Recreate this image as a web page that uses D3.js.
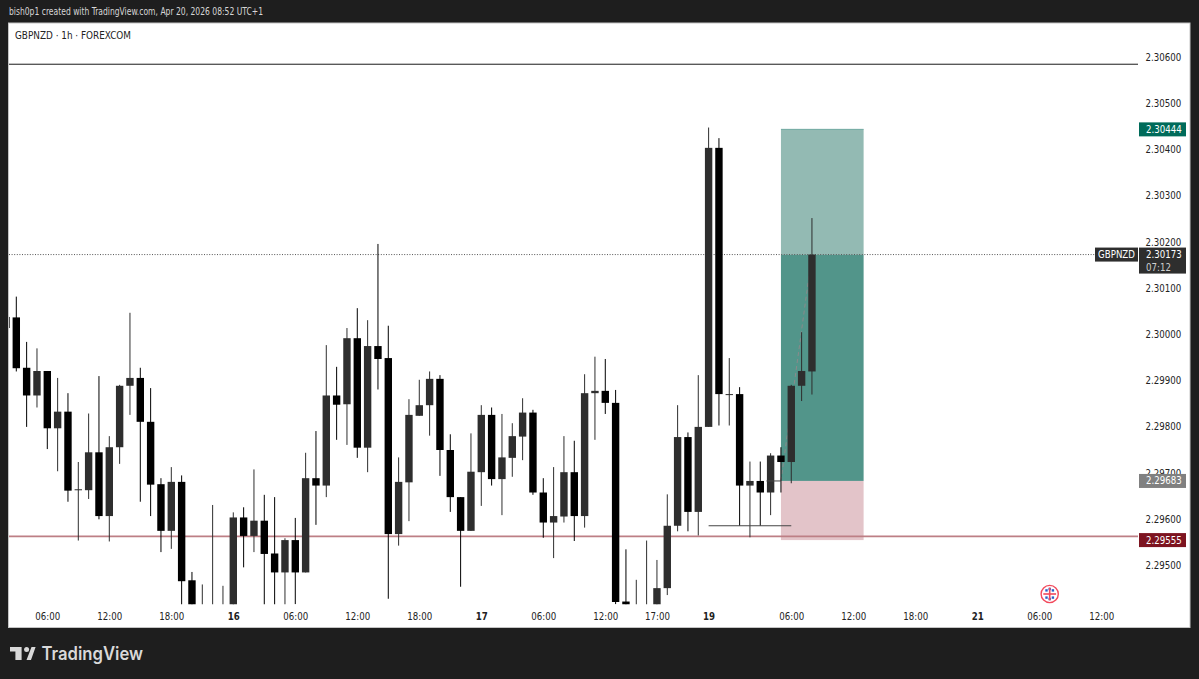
<!DOCTYPE html>
<html>
<head>
<meta charset="utf-8">
<script src="https://cdn.jsdelivr.net/npm/d3@7"></script>
<style>
  html, body { margin: 0; padding: 0; background: #1e1e1e; }
  svg { display: block; }
  text { font-family: "DejaVu Sans Condensed", "DejaVu Sans", sans-serif; font-stretch: condensed; }
</style>
</head>
<body>
<div id="chart"></div>
<script>
// hourly bars, first one is cut off by the left edge of the pane
const opens = [2.30038,2.30037,2.29928,2.29868,2.29921,2.29797,2.29833,2.29664,2.29663,2.29745,2.29607,2.29756,2.29889,2.29906,2.29811,2.29676,2.29575,2.29681,2.29468,2.29340,2.29370,2.29360,2.29400,2.29604,2.29564,2.29597,2.29526,2.29485,2.29555,2.29485,2.29689,2.29673,2.29868,2.29849,2.29992,2.29755,2.29975,2.29949,2.29568,2.29680,2.29824,2.29847,2.29904,2.29750,2.29648,2.29575,2.29702,2.29826,2.29687,2.29733,2.29779,2.29831,2.29658,2.29593,2.29606,2.29702,2.29607,2.29873,2.29878,2.29852,2.29422,2.29380,2.29380,2.29400,2.29451,2.29586,2.29778,2.29616,2.29800,2.30404,2.29870,2.29871,2.29673,2.29683,2.29658,2.29738,2.29724,2.29889,2.29920];
const highs = [2.30038,2.30082,2.29984,2.29970,2.29921,2.29906,2.29873,2.29724,2.29829,2.29910,2.29780,2.29891,2.30047,2.29928,2.29884,2.29689,2.29713,2.29695,2.29486,2.29459,2.29631,2.29456,2.29615,2.29626,2.29708,2.29653,2.29648,2.29559,2.29603,2.29744,2.29791,2.29977,2.29930,2.30014,2.30057,2.30031,2.30196,2.30019,2.29734,2.29860,2.29902,2.29920,2.29912,2.29784,2.29648,2.29786,2.29847,2.29842,2.29828,2.29808,2.29862,2.29837,2.29689,2.29713,2.29780,2.29770,2.29914,2.29952,2.29947,2.29880,2.29535,2.29469,2.29554,2.29512,2.29654,2.29847,2.29788,2.29912,2.30448,2.30425,2.29949,2.29886,2.29725,2.29725,2.29743,2.29756,2.29891,2.30005,2.30252];
const lows = [2.30014,2.29920,2.29800,2.29842,2.29752,2.29704,2.29638,2.29554,2.29644,2.29600,2.29552,2.29720,2.29826,2.29638,2.29607,2.29529,2.29536,2.29371,2.29340,2.29330,2.29360,2.29350,2.29380,2.29496,2.29529,2.29400,2.29410,2.29405,2.29416,2.29485,2.29588,2.29648,2.29772,2.29761,2.29733,2.29702,2.29881,2.29428,2.29543,2.29596,2.29824,2.29781,2.29694,2.29616,2.29454,2.29575,2.29629,2.29673,2.29609,2.29692,2.29728,2.29653,2.29560,2.29516,2.29593,2.29553,2.29582,2.29772,2.29828,2.29416,2.29400,2.29370,2.29370,2.29400,2.29436,2.29574,2.29574,2.29565,2.29800,2.29803,2.29803,2.29586,2.29561,2.29586,2.29609,2.29658,2.29678,2.29856,2.29870];
const closes = [2.30014,2.29927,2.29868,2.29921,2.29797,2.29833,2.29662,2.29665,2.29745,2.29607,2.29756,2.29889,2.29906,2.29811,2.29675,2.29575,2.29681,2.29466,2.29360,2.29400,2.29405,2.29400,2.29604,2.29564,2.29597,2.29525,2.29485,2.29555,2.29485,2.29689,2.29673,2.29868,2.29848,2.29992,2.29755,2.29975,2.29947,2.29568,2.29681,2.29826,2.29847,2.29904,2.29750,2.29648,2.29575,2.29703,2.29826,2.29687,2.29734,2.29780,2.29831,2.29658,2.29593,2.29607,2.29702,2.29607,2.29873,2.29878,2.29852,2.29421,2.29405,2.29405,2.29410,2.29451,2.29586,2.29778,2.29616,2.29800,2.30404,2.29871,2.29871,2.29673,2.29683,2.29658,2.29738,2.29724,2.29889,2.29921,2.30173];

const priceTicks = [2.306,2.305,2.304,2.303,2.302,2.301,2.300,2.299,2.298,2.297,2.296,2.295];
const timeTicks = [4,10,16,22,28,34,40,46,52,58,63,68,76,82,88,94,100,106];
const timeLabels = ['06:00','12:00','18:00','16','06:00','12:00','18:00','17','06:00','12:00','17:00','19','06:00','12:00','18:00','21','06:00','12:00'];
const dayLabels = ['16','17','19','21'];

// position tool and drawn levels
const targetPrice = 2.30444;
const entryPrice = 2.29683;
const stopPrice = 2.29555;
const lastPrice = 2.30173;
const topLevel = 2.30585;
const redLevel = 2.29563;
const shortLevel = 2.29586;

const width = 1199, height = 679;
const paneLeft = 9, paneRight = 1138, paneTop = 23, paneBottom = 604.3;
const labelSize = 9.6;

const x = d3.scaleLinear().domain([0, 100]).range([5.97, 1039.27]);
const y = d3.scaleLinear().domain([2.306, 2.295]).range([57.3, 565.5]);

const svg = d3.select('#chart').append('svg').attr('width', width).attr('height', height);

svg.append('rect').attr('width', width).attr('height', height).attr('fill', '#1e1e1e');
svg.append('rect').attr('x', 8.5).attr('y', 23).attr('width', 1181.5).attr('height', 604.5)
    .attr('fill', '#fff').attr('stroke', '#c4c4c4').attr('stroke-width', 1);

svg.append('text').attr('x', 9).attr('y', 14.5).attr('fill', '#d6d6d6').attr('font-size', 10.5)
    .attr('textLength', 254).attr('lengthAdjust', 'spacingAndGlyphs')
    .text('bish0p1 created with TradingView.com, Apr 20, 2026 08:52 UTC+1');
svg.append('text').attr('x', 15).attr('y', 38.5).attr('fill', '#222').attr('font-size', 10.5)
    .attr('textLength', 116).attr('lengthAdjust', 'spacingAndGlyphs')
    .text('GBPNZD · 1h · FOREXCOM');

svg.append('defs').append('clipPath').attr('id', 'pane')
    .append('rect').attr('x', paneLeft).attr('y', paneTop)
    .attr('width', paneRight - paneLeft).attr('height', paneBottom - paneTop);
const pane = svg.append('g').attr('clip-path', 'url(#pane)');

// long position zones
const zoneLeft = x(75), zoneRight = x(83);
pane.append('rect').attr('x', zoneLeft).attr('width', zoneRight - zoneLeft)
    .attr('y', y(targetPrice)).attr('height', y(lastPrice) - y(targetPrice)).attr('fill', '#93bab3');
pane.append('rect').attr('x', zoneLeft).attr('width', zoneRight - zoneLeft)
    .attr('y', y(lastPrice)).attr('height', y(entryPrice) - y(lastPrice)).attr('fill', '#52958a');
pane.append('rect').attr('x', zoneLeft).attr('width', zoneRight - zoneLeft)
    .attr('y', y(entryPrice)).attr('height', y(stopPrice) - y(entryPrice)).attr('fill', '#e3c4c9');
pane.append('line').attr('x1', zoneLeft).attr('x2', zoneRight)
    .attr('y1', y(targetPrice)).attr('y2', y(targetPrice)).attr('stroke', '#6fa89f');
pane.append('line').attr('x1', zoneLeft).attr('x2', x(78))
    .attr('y1', y(entryPrice)).attr('y2', y(lastPrice))
    .attr('stroke', '#8a8a8a').attr('stroke-width', 1).attr('stroke-dasharray', '4 3');

// horizontal levels
pane.append('line').attr('x1', paneLeft).attr('x2', paneRight)
    .attr('y1', y(topLevel)).attr('y2', y(topLevel)).attr('stroke', '#1a1a1a').attr('stroke-width', 1);
pane.append('line').attr('x1', paneLeft).attr('x2', paneRight)
    .attr('y1', y(redLevel)).attr('y2', y(redLevel)).attr('stroke', '#bd7f85').attr('stroke-width', 1.6);
pane.append('line').attr('x1', paneLeft).attr('x2', paneRight)
    .attr('y1', y(lastPrice)).attr('y2', y(lastPrice))
    .attr('stroke', '#555').attr('stroke-width', 1).attr('stroke-dasharray', '1 1.6');

// candles
const bars = opens.map((o, i) => ({ i, o, h: highs[i], l: lows[i], c: closes[i] }));
const barColor = d => d.c > d.o ? '#2e2e2e' : '#000';
const bodyWidth = 7.4;

const candle = pane.selectAll('g.candle').data(bars).join('g').attr('class', 'candle');
candle.append('line')
    .attr('x1', d => x(d.i)).attr('x2', d => x(d.i))
    .attr('y1', d => y(d.h)).attr('y2', d => y(d.l))
    .attr('stroke', barColor).attr('stroke-width', 1);
candle.append('rect')
    .attr('x', d => x(d.i) - bodyWidth / 2).attr('width', bodyWidth)
    .attr('y', d => y(Math.max(d.o, d.c)))
    .attr('height', d => Math.max(1, Math.abs(y(d.o) - y(d.c))))
    .attr('fill', barColor);

// short level drawn over the candles
pane.append('line').attr('x1', x(68)).attr('x2', x(76))
    .attr('y1', y(shortLevel)).attr('y2', y(shortLevel)).attr('stroke', '#444').attr('stroke-width', 1.2);
pane.append('line').attr('x1', x(73.6)).attr('x2', x(75))
    .attr('y1', y(entryPrice)).attr('y2', y(entryPrice)).attr('stroke', '#444').attr('stroke-width', 1);

// axes
const yAxis = d3.axisRight(y).tickValues(priceTicks).tickFormat(d3.format('.5f')).tickSize(0).tickPadding(7.5);
const gy = svg.append('g').attr('transform', `translate(${paneRight},0)`).call(yAxis);
gy.select('.domain').remove();
gy.selectAll('text').style('font-family', null).attr('font-family', null)
    .attr('font-size', labelSize).attr('fill', '#222');

const xAxis = d3.axisBottom(x).tickValues(timeTicks).tickFormat((d, i) => timeLabels[i]).tickSize(0).tickPadding(0);
const gx = svg.append('g').attr('transform', 'translate(0,613)').call(xAxis);
gx.select('.domain').remove();
gx.selectAll('text').attr('font-size', labelSize).attr('fill', '#222')
    .attr('font-weight', (d, i) => dayLabels.includes(timeLabels[i]) ? 700 : 400);

// price labels on the scale
const labels = [
    { price: targetPrice, fill: '#006b5a' },
    { price: entryPrice, fill: '#808080' },
    { price: stopPrice, fill: '#7d1420' }
];
const label = svg.selectAll('g.plabel').data(labels).join('g').attr('class', 'plabel');
label.append('rect').attr('x', 1139).attr('width', 47).attr('height', 14)
    .attr('y', d => y(d.price) - 7).attr('fill', d => d.fill);
label.append('text').attr('x', 1146).attr('y', d => y(d.price) + 3.5)
    .attr('font-size', labelSize).attr('fill', '#fff').text(d => d3.format('.5f')(d.price));

const lastY = y(lastPrice);
svg.append('rect').attr('x', 1139).attr('y', lastY - 7).attr('width', 47).attr('height', 26).attr('fill', '#2e2e2e');
svg.append('text').attr('x', 1146).attr('y', lastY + 3.5).attr('font-size', labelSize).attr('fill', '#fff')
    .text(d3.format('.5f')(lastPrice));
svg.append('text').attr('x', 1146).attr('y', lastY + 16).attr('font-size', labelSize).attr('fill', '#d0d0d0').text('07:12');
svg.append('rect').attr('x', 1095).attr('y', lastY - 7).attr('width', 43).attr('height', 14).attr('fill', '#2e2e2e');
svg.append('text').attr('x', 1116.5).attr('y', lastY + 3.5).attr('text-anchor', 'middle')
    .attr('font-size', labelSize).attr('fill', '#fff').text('GBPNZD');

// UK news marker
const flag = svg.append('g').attr('transform', 'translate(1049.7,594)');
flag.append('circle').attr('r', 8.6).attr('fill', '#fff').attr('stroke', '#f2495c').attr('stroke-width', 1.4);
flag.append('circle').attr('r', 6.4).attr('fill', '#fff');
[[-3.2, -3.6], [3.2, -3.6], [-3.2, 3.6], [3.2, 3.6], [0, -5], [0, 5]].forEach(p => {
    flag.append('rect').attr('x', p[0] - 1.2).attr('y', p[1] - 1.2).attr('width', 2.4).attr('height', 2.4).attr('fill', '#2b5fc7');
});
flag.append('rect').attr('x', -6.4).attr('y', -0.8).attr('width', 12.8).attr('height', 1.6).attr('fill', '#f2495c');
flag.append('rect').attr('x', -0.8).attr('y', -6.4).attr('width', 1.6).attr('height', 12.8).attr('fill', '#f2495c');

// footer logo
const logo = svg.append('g').attr('fill', '#d9d9d9');
logo.append('path').attr('d', 'M10 647 H21.6 V660 H15.4 V651.6 H10 Z');
logo.append('circle').attr('cx', 26.6).attr('cy', 649.4).attr('r', 2.5);
logo.append('path').attr('d', 'M29 660 L33.4 647 H35.6 L31 660 Z M31.5 647 H35.6 L30.6 660 H26.5 Z');
svg.append('text').attr('x', 41.5).attr('y', 659.5).attr('fill', '#d9d9d9')
    .attr('font-size', 18).attr('font-weight', 600).style('font-family', 'Inter, sans-serif').style('font-stretch', 'normal')
    .attr('textLength', 101.5).attr('lengthAdjust', 'spacingAndGlyphs').text('TradingView');
</script>
</body>
</html>
